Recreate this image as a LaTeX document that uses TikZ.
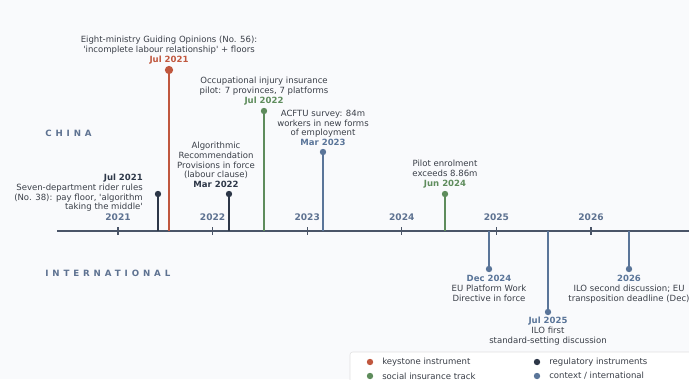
\documentclass[tikz,border=0pt]{standalone}
\usepackage{xcolor}
\usepackage{fontspec}
\setmainfont{DejaVu Sans}[Ligatures=TeXOff]
\usepackage{tikz}

\definecolor{keyred}{HTML}{C0573E}
\definecolor{insgreen}{HTML}{5E8C5C}
\definecolor{regdark}{HTML}{2D3748}
\definecolor{ctxblue}{HTML}{5A7599}
\definecolor{axisgrey}{HTML}{4A5568}
\definecolor{yeargrey}{HTML}{5E7291}
\definecolor{txtgrey}{HTML}{3A3F48}
\definecolor{bgpaper}{HTML}{F9FAFC}

\begin{document}
\begin{tikzpicture}[x=0.75pt,y=0.75pt,yscale=-1,xscale=1,
  every node/.style={font=\fontsize{6.4}{7.3}\selectfont, text=txtgrey},
  dot/.style={circle, inner sep=0pt, minimum size=4.8pt},
  bigdot/.style={circle, inner sep=0pt, minimum size=6.2pt},
  stem/.style={line width=1.5pt},
  lbl/.style={inner sep=0pt, align=center},
  yr/.style={font=\fontsize{6.8}{8}\selectfont\bfseries, text=yeargrey},
  region/.style={font=\fontsize{6.5}{7.8}\selectfont\bfseries\addfontfeatures{LetterSpace=45}, text=yeargrey, anchor=west, inner sep=0pt}]
\useasboundingbox (0,0) rectangle (689,379);
\fill [bgpaper] (0,0) rectangle (689,379);

% axis and years
\draw [axisgrey, line width=1.4pt] (57,231) coordinate (axstart) -- (700,231) coordinate (axend);
\foreach \yy [count=\i from 0] in {2021,...,2026} {
  \draw [axisgrey, line width=1pt] (118+94.6*\i,227) -- (118+94.6*\i,235);
  \draw (118+94.6*\i,217) node [yr] (yr\yy) {\yy};
}

% region labels
\draw (45,133) node [region] (china) {CHINA};
\draw (45,273) node [region] (intl) {INTERNATIONAL};

% China events (above the axis)
\coordinate (riderax) at (158,231);
\draw (158,194) node [dot, fill=regdark] (riderdot) {};
\draw [stem, regdark] (riderax) -- (riderdot);
\draw (143,212) node [lbl, anchor=south east, align=right] (riderlbl) {\textbf{\color{regdark}Jul 2021}\\Seven-department rider rules\\(No. 38): pay floor, 'algorithm\\taking the middle'};

\coordinate (keyax) at (169,231);
\draw (169,70) node [bigdot, fill=keyred] (keydot) {};
\draw [stem, keyred, line width=1.8pt] (keyax) -- (keydot);
\draw (169,64) node [lbl, anchor=south] (keylbl) {Eight-ministry Guiding Opinions (No. 56):\\'incomplete labour relationship' + floors\\\textbf{\color{keyred}Jul 2021}};

\coordinate (algoax) at (229,231);
\draw (229,194) node [dot, fill=regdark] (algodot) {};
\draw [stem, regdark] (algoax) -- (algodot);
\draw (216,188) node [lbl, anchor=south] (algolbl) {Algorithmic\\Recommendation\\Provisions in force\\(labour clause)\\\textbf{\color{regdark}Mar 2022}};

\coordinate (injax) at (264,231);
\draw (264,111) node [dot, fill=insgreen] (injdot) {};
\draw [stem, insgreen] (injax) -- (injdot);
\draw (264,105) node [lbl, anchor=south] (injlbl) {Occupational injury insurance\\pilot: 7 provinces, 7 platforms\\\textbf{\color{insgreen}Jul 2022}};

\coordinate (acftuax) at (323,231);
\draw (323,152) node [dot, fill=ctxblue] (acftudot) {};
\draw [stem, ctxblue] (acftuax) -- (acftudot);
\draw (323,146) node [lbl, anchor=south] (acftulbl) {ACFTU survey: 84m\\workers in new forms\\of employment\\\textbf{\color{ctxblue}Mar 2023}};

\coordinate (enrolax) at (445,231);
\draw (445,194) node [dot, fill=insgreen] (enroldot) {};
\draw [stem, insgreen] (enrolax) -- (enroldot);
\draw (445,188) node [lbl, anchor=south] (enrollbl) {Pilot enrolment\\exceeds 8.86m\\\textbf{\color{insgreen}Jun 2024}};

% international events (below the axis)
\coordinate (euax) at (489,231);
\draw (489,269) node [dot, fill=ctxblue] (eudot) {};
\draw [stem, ctxblue] (euax) -- (eudot);
\draw (489,275) node [lbl, anchor=north] (eulbl) {\textbf{\color{ctxblue}Dec 2024}\\EU Platform Work\\Directive in force};

\coordinate (iloax) at (548,231);
\draw (548,312) node [dot, fill=ctxblue] (ilodot) {};
\draw [stem, ctxblue] (iloax) -- (ilodot);
\draw (548,317) node [lbl, anchor=north] (ilolbl) {\textbf{\color{ctxblue}Jul 2025}\\ILO first\\standard-setting discussion};

\coordinate (secax) at (629,231);
\draw (629,269) node [dot, fill=ctxblue] (secdot) {};
\draw [stem, ctxblue] (secax) -- (secdot);
\draw (629,275) node [lbl, anchor=north] (seclbl) {\textbf{\color{ctxblue}2026}\\ILO second discussion; EU\\transposition deadline (Dec)};

% legend
\draw [draw=black!12, fill=white, rounded corners=2pt] (350,352) rectangle (720,400);
\draw (370,362) node [dot, fill=keyred] (lgkey) {};
\draw (382,362) node [anchor=west, inner sep=0pt] (lgkeytxt) {keystone instrument};
\draw (370,376) node [dot, fill=insgreen] (lgins) {};
\draw (382,376) node [anchor=west, inner sep=0pt] (lginstxt) {social insurance track};
\draw (537,362) node [dot, fill=regdark] (lgreg) {};
\draw (549,362) node [anchor=west, inner sep=0pt] (lgregtxt) {regulatory instruments};
\draw (537,376) node [dot, fill=ctxblue] (lgctx) {};
\draw (549,376) node [anchor=west, inner sep=0pt] (lgctxtxt) {context / international};
\end{tikzpicture}
\end{document}
